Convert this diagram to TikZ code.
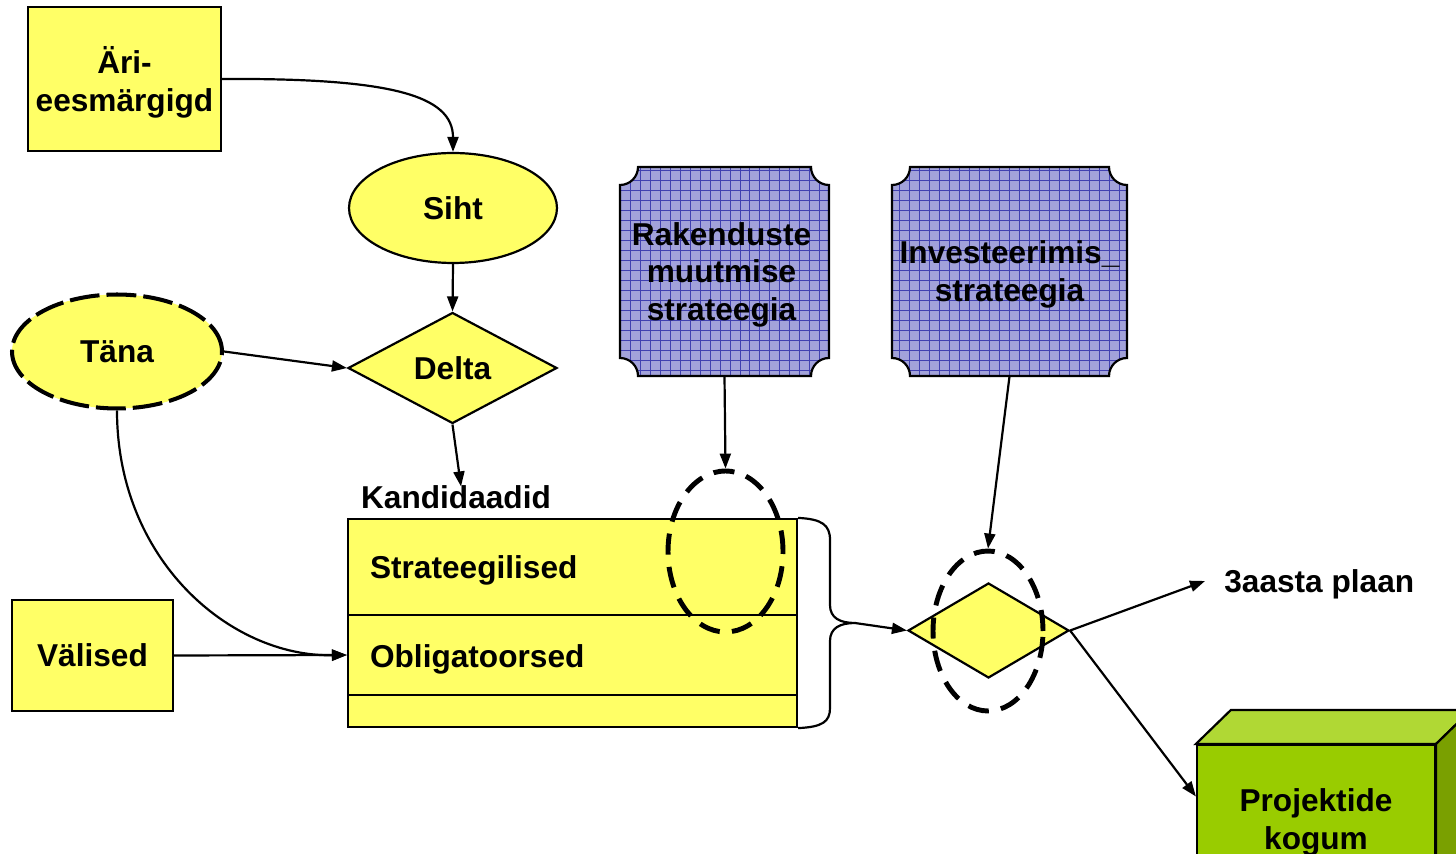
\documentclass[tikz,border=0pt]{standalone}
\usepackage{fontspec}
\setmainfont{Liberation Sans}
\usetikzlibrary{shapes.geometric,arrows.meta,calc}

\definecolor{boxyellow}{HTML}{FFFF66}
\definecolor{gridfill}{RGB}{162,162,218}
\definecolor{gridline}{RGB}{64,64,176}
\definecolor{cubefront}{HTML}{99CC00}
\definecolor{cubetop}{RGB}{176,216,52}
\definecolor{cubeside}{RGB}{122,160,0}

% Box with concave (notched) corners, filled with a fine grid.
% Arguments: left, top, right, bottom (y measured downwards).
\newcommand\notchedbox[4]{%
  \begin{scope}
    \clip ({#1+18},{-#2}) -- ({#3-18},{-#2})
      arc[start angle=180,end angle=270,radius=0.36cm] -- ({#3},{-#4+18})
      arc[start angle=90,end angle=180,radius=0.36cm] -- ({#1+18},{-#4})
      arc[start angle=0,end angle=90,radius=0.36cm] -- ({#1},{-#2-18})
      arc[start angle=-90,end angle=0,radius=0.36cm] -- cycle;
    \fill[gridfill] (#1,-#2) rectangle (#3,-#4);
    \draw[gridline,line width=0.4pt,step=0.2cm] (#1,-#4) grid (#3,-#2);
  \end{scope}
  \draw[outline] ({#1+18},{-#2}) -- ({#3-18},{-#2})
      arc[start angle=180,end angle=270,radius=0.36cm] -- ({#3},{-#4+18})
      arc[start angle=90,end angle=180,radius=0.36cm] -- ({#1+18},{-#4})
      arc[start angle=0,end angle=90,radius=0.36cm] -- ({#1},{-#2-18})
      arc[start angle=-90,end angle=0,radius=0.36cm] -- cycle;
}

\begin{document}
\begin{tikzpicture}[x=0.02cm,y=0.02cm,
  every node/.style={font=\fontsize{18}{21.6}\selectfont\bfseries,text depth=0pt},
  outline/.style={draw=black,line width=1.25pt},
  ybox/.style={outline,fill=boxyellow,rectangle,inner sep=0pt,align=center},
  rowbox/.style={ybox,text width=8.1cm,inner xsep=0.44cm,align=left},
  conn/.style={line width=1.25pt,-{Triangle[length=0.3cm,width=0.22cm]}},
  bigdash/.style={draw=black,line width=2.3pt,dash pattern=on 17pt off 4pt},
  ringdash/.style={draw=black,line width=2.8pt,dash pattern=on 12pt off 7pt,
                   ellipse,inner sep=0pt},
]
\useasboundingbox (0,0) rectangle (1456,-854);

% ---- left column ----
\node[ybox,minimum width=3.86cm,minimum height=2.88cm] (ari) at (124.5,-79) {Äri-\\eesmärgigd};
\node[ybox,ellipse,minimum width=4.16cm,minimum height=2.2cm] (siht) at (453,-208) {Siht};
\node[ybox,diamond,minimum width=4.18cm,minimum height=2.22cm] (delta) at (452.5,-368) {Delta};
\node[fill=boxyellow,ellipse,bigdash,inner sep=0pt,minimum width=4.2cm,minimum height=2.28cm] (tana) at (117,-351.5) {Täna};
\node[ybox,minimum width=3.22cm,minimum height=2.22cm] (valised) at (92.5,-655.5) {Välised};

% ---- candidate list ----
\node[inner sep=1pt] (kand) at (456,-497) {Kandidaadid};
\node[rowbox,minimum height=1.92cm] (row1) at (572.5,-567) {Strateegilised};
\node[rowbox,minimum height=1.6cm] (row2) at (572.5,-655) {\raisebox{-0.03cm}{Obligatoorsed}};
\node[rowbox,minimum height=0.64cm] (row3) at (572.5,-711) {};

% brace collecting the list
\coordinate (bracetip) at (855,-623);
\draw[outline] (row1.north east) .. controls (822,-519) and (830,-525) .. (830,-540)
  -- (830,-605) .. controls (830,-618) and (840,-623) .. (bracetip)
  .. controls (840,-623) and (830,-628) .. (830,-641)
  -- (830,-708) .. controls (830,-722) and (822,-727) .. (row3.south east);

% ---- strategies ----
\notchedbox{620}{167}{829}{376}
\node[align=center,inner sep=0pt,minimum width=4.18cm,minimum height=4.18cm] (rak) at (724.5,-271.5) {\hspace*{-0.12cm}Rakenduste\\\hspace*{-0.12cm}muutmise\\\hspace*{-0.12cm}strateegia};
\notchedbox{892}{167}{1127}{376}
\node[align=center,inner sep=0pt,minimum width=4.7cm,minimum height=4.18cm] (inv) at (1009.5,-271.5) {Investeerimis\_\\strateegia};

\node[ringdash,minimum width=2.3cm,minimum height=3.22cm] (ell1) at (725.5,-551.5) {};

% ---- decision ----
\node[ybox,diamond,minimum width=3.22cm,minimum height=1.9cm] (dec) at (988.5,-630.5) {};
\node[ringdash,minimum width=2.2cm,minimum height=3.2cm] (ell2) at (988,-631) {};

\node[anchor=west,inner xsep=0.38cm,inner ysep=0pt] (plan) at (1205,-581) {3aasta plaan};

% ---- project pool (box in perspective) ----
\node[fill=cubefront,outline,align=center,inner sep=0pt,minimum width=4.76cm,minimum height=2.96cm] (proj) at (1316,-819) {Projektide\\kogum};
\filldraw[fill=cubetop,outline] (proj.north west) -- ++(35,34) -- ($(proj.north east)+(35,34)$) -- (proj.north east) -- cycle;
\filldraw[fill=cubeside,outline] (proj.north east) -- ++(35,34) -- ++(0,-200) -- (proj.south east) -- cycle;
\coordinate (projin) at ($(proj.north west)!0.35!(proj.south west)$);

% ---- connectors ----
\draw[conn] (ari.east) .. controls (390,-78) and (453,-95) .. (siht.north);
\draw[conn] (siht.south) -- (delta.north);
\draw[conn] (tana.east) -- (delta.west);
\draw[conn] (delta.south) -- ([xshift=0.1cm,yshift=-0.06cm]kand.north);
\draw[conn] (tana.south) .. controls (117,-560) and (230,-657) .. (row2.west);
\draw[conn] (valised.east) -- (row2.west);
\draw[conn] (rak.south) -- (ell1.north);
\draw[conn] (inv.south) -- (ell2.north);
\draw[conn] (bracetip) -- (dec.west);
\draw[conn] (dec.east) -- (plan.west);
\draw[conn] (dec.east) -- (projin);
\end{tikzpicture}
\end{document}
